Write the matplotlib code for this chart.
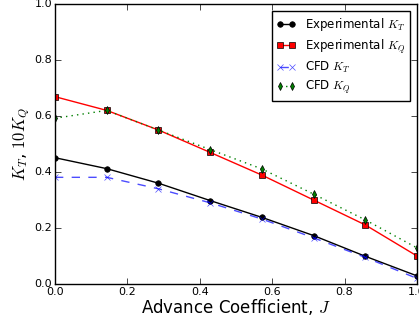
import matplotlib
matplotlib.use("Agg")
import matplotlib.pyplot as plt

# advance coefficient J and thrust / torque coefficients
J = [0.0, 1/7, 2/7, 3/7, 4/7, 5/7, 6/7, 1.0]
exp_kt = [0.451, 0.412, 0.36, 0.298, 0.238, 0.173, 0.099, 0.029]
exp_kq = [0.669, 0.62, 0.55, 0.47, 0.389, 0.30, 0.211, 0.10]
cfd_kt = [0.381, 0.381, 0.34, 0.29, 0.232, 0.165, 0.095, 0.02]
cfd_kq = [0.592, 0.62, 0.55, 0.48, 0.411, 0.321, 0.229, 0.129]

plt.style.use("classic")
plt.rcParams["figure.facecolor"] = "white"
plt.rcParams["savefig.facecolor"] = "white"

fig = plt.figure(figsize=(4.19, 3.21), dpi=100)
ax = fig.add_axes([55/419, 37/321, 362/419, 280/321])

ms = 4
ax.plot(J, exp_kt, "k-o", markersize=ms, label="Experimental $K_T$")
ax.plot(J, exp_kq, "r-s", markersize=ms, label="Experimental $K_Q$")
ax.plot(J, cfd_kt, "b--x", markersize=ms, alpha=0.7, label="CFD $K_T$")
ax.plot(J, cfd_kq, "g:d", markersize=ms, label="CFD $K_Q$")

ax.set_xlim(0, 1.0)
ax.set_ylim(0, 1.0)
ax.tick_params(labelsize=8, pad=2)
ax.set_xlabel("Advance Coefficient, $J$", fontsize=12, labelpad=0)
ax.set_ylabel("$K_T$, $10K_Q$", fontsize=12, labelpad=2)

ax.legend(loc="upper right", fontsize=8.5, numpoints=2, handlelength=1.6,
          labelspacing=0.35, borderaxespad=0.6)

plt.savefig("out.png", dpi=100)
